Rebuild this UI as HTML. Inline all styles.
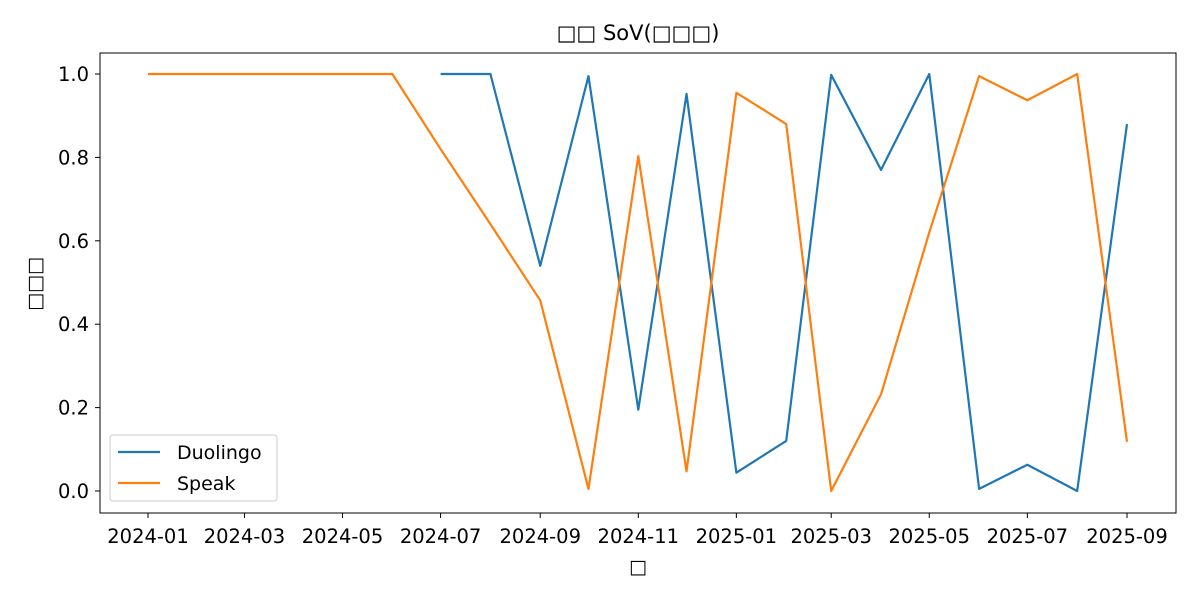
<!DOCTYPE html>
<html><head><meta charset="utf-8"><style>
body{margin:0;background:#fff;}
svg text{font-family:"DejaVu Sans","Liberation Sans",sans-serif;fill:#000;}
</style></head><body>
<svg id="chart" width="1200" height="600" xmlns="http://www.w3.org/2000/svg">
<rect width="1200" height="600" fill="#fff"/>
<text x="638" y="40" font-size="21" text-anchor="middle">□□ SoV(□□□)</text>
<text x="638" y="573" font-size="19" text-anchor="middle">□</text>
<text transform="translate(41,284) rotate(-90)" font-size="19" text-anchor="middle">□□□</text>
<g id="grid"></g>
<g id="series"></g>
<rect x="100" y="53" width="1076" height="460" fill="none" stroke="#000" stroke-width="1"/>
<g>
<rect x="110" y="435" width="167" height="66" rx="3" fill="#fff" fill-opacity="0.8" stroke="#ccc"/>
<g><line x1="118" y1="452" x2="160" y2="452" stroke="#1f77b4" stroke-width="2.2"/><text x="177" y="459" font-size="19">Duolingo</text></g>
<g><line x1="118" y1="483" x2="160" y2="483" stroke="#ff7f0e" stroke-width="2.2"/><text x="177" y="490" font-size="19">Speak</text></g>
</g>
</svg>
<script>
const months = ["2024-01","2024-02","2024-03","2024-04","2024-05","2024-06","2024-07","2024-08","2024-09","2024-10","2024-11","2024-12","2025-01","2025-02","2025-03","2025-04","2025-05","2025-06","2025-07","2025-08","2025-09"];
const duolingo = [null,null,null,null,null,null,1.0,1.0,0.54,0.995,0.195,0.952,0.044,0.12,0.998,0.77,1.0,0.005,0.063,0.0,0.88];
const speak = [1.0,1.0,1.0,1.0,1.0,1.0,0.82,0.64,0.457,0.005,0.803,0.047,0.955,0.88,0.0,0.232,0.62,0.995,0.937,1.0,0.118];
const xTicks = ["2024-01","2024-03","2024-05","2024-07","2024-09","2024-11","2025-01","2025-03","2025-05","2025-07","2025-09"];
const yTicks = [0.0,0.2,0.4,0.6,0.8,1.0];

const NS="http://www.w3.org/2000/svg";
const t0=Date.UTC(2024,0,1), t1=Date.UTC(2025,8,1);
function tms(m){const [y,mo]=m.split("-").map(Number);return Date.UTC(y,mo-1,1);}
function xs(m){return 148+(tms(m)-t0)/(t1-t0)*979;}
function ys(v){return 491-v*417;}
const grid=document.getElementById("grid");
function mk(tag,attrs,parent){const e=document.createElementNS(NS,tag);for(const k in attrs)e.setAttribute(k,attrs[k]);parent.appendChild(e);return e;}
xTicks.forEach(m=>{
  const x=xs(m);
  const l=mk("line",{x1:x,x2:x,y1:513,y2:518,stroke:"#000"},grid);
  
  
  const t=mk("text",{x:x,y:543,"font-size":"19.5","text-anchor":"middle"},grid);
  t.textContent=m;
  
  
});
yTicks.forEach(v=>{
  const y=ys(v);
  const l=mk("line",{x1:95,x2:100,y1:y,y2:y,stroke:"#000"},grid);
  
  
  const t=mk("text",{x:89,y:y+7,"font-size":"19.5","text-anchor":"end"},grid);
  t.textContent=v.toFixed(1);
  
  
});
const sg=document.getElementById("series");
function drawSeries(vals,color,name){
  let d="",pen=false;
  vals.forEach((v,i)=>{
    if(v===null){pen=false;return;}
    d+=(pen?"L":"M")+xs(months[i]).toFixed(2)+","+ys(v).toFixed(2)+" ";pen=true;
  });
  const p=mk("path",{d:d,fill:"none",stroke:color,"stroke-width":"2.2","stroke-linejoin":"round"},sg);
  
  
}
drawSeries(duolingo,"#1f77b4","duolingo-line");
drawSeries(speak,"#ff7f0e","speak-line");
</script>
</body></html>
